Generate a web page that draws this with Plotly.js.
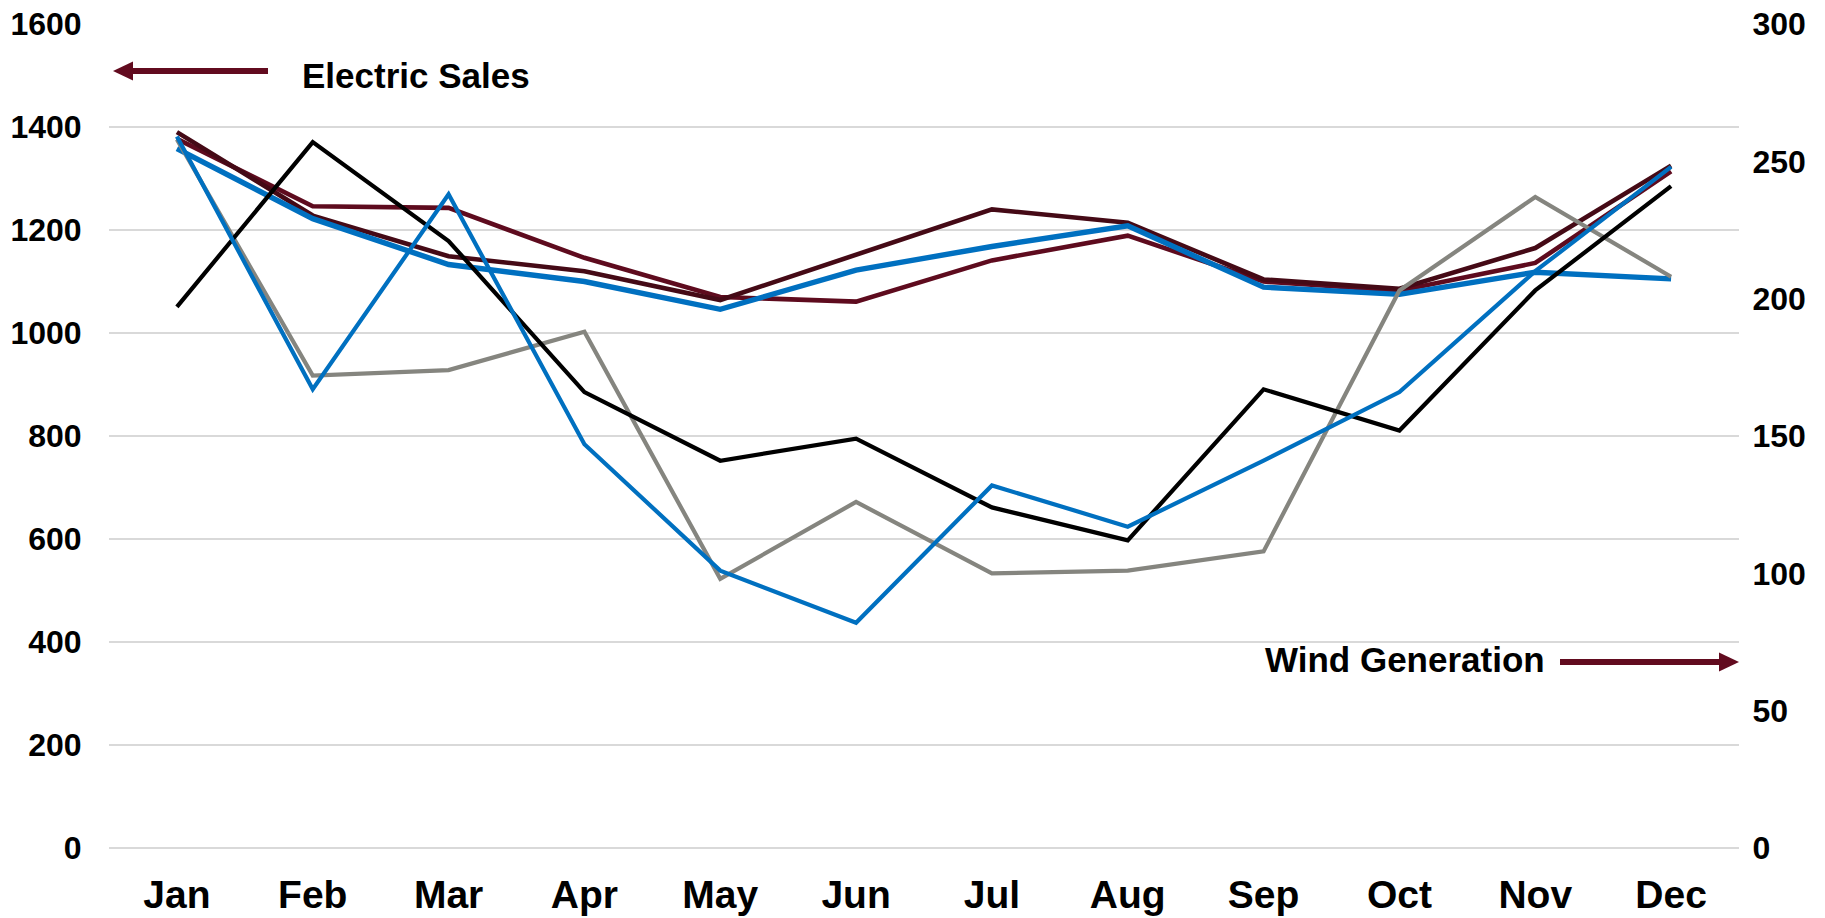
<!DOCTYPE html>
<html>
<head>
<meta charset="utf-8">
<script src="https://cdn.plot.ly/plotly-3.0.1.min.js"></script>
<style>
  html, body { margin: 0; padding: 0; background: #ffffff; }
  #chart { width: 1825px; height: 918px; }
</style>
</head>
<body>
<div id="chart"></div>
<script>
// ---- Data ----
const months = ["Jan","Feb","Mar","Apr","May","Jun","Jul","Aug","Sep","Oct","Nov","Dec"];

// Electric sales (left axis)
const salesA = [1390, 1228, 1149, 1120, 1064, 1152, 1240, 1214, 1104, 1086, 1165, 1325]; // dark maroon
const salesB = [1377, 1246, 1243, 1146, 1070, 1061, 1141, 1189, 1100, 1082, 1136, 1314]; // maroon
const salesC = [1358, 1222, 1133, 1100, 1046, 1122, 1168, 1208, 1089, 1075, 1118, 1105]; // blue

// Wind generation (right axis)
const windA = [259, 167, 238, 147, 101, 82, 132, 117, 141, 166, 210, 248]; // blue
const windB = [258, 172, 174, 188, 98, 126, 100, 101, 108, 203, 237, 208]; // gray
const windC = [197, 257, 221, 166, 141, 149, 124, 112, 167, 152, 203, 241]; // black

const leftTicks = [0, 200, 400, 600, 800, 1000, 1200, 1400, 1600];
const rightTicks = [0, 50, 100, 150, 200, 250, 300];

// ---- Layout geometry ----
const W = 1825, H = 918;
const M = {l: 109, r: 86, t: 24, b: 70};
const PW = W - M.l - M.r, PH = H - M.t - M.b;
const px = x => (x - M.l) / PW;
const py = y => (H - M.b - y) / PH;

const FONT = "Liberation Sans, Arial, Helvetica, sans-serif";
const MAROON = "#620b1f";

function line(name, y, color, width, axis) {
  return {
    type: "scatter", mode: "lines", name: name,
    x: months, y: y, yaxis: axis,
    line: {color: color, width: width},
    showlegend: false, hoverinfo: "x+y+name"
  };
}

const traces = [
  line("Wind (gray)", windB, "#85857f", 4.2, "y2"),
  line("Wind (black)", windC, "#000000", 4.2, "y2"),
  line("Wind (blue)", windA, "#0070c0", 4.2, "y2"),
  line("Sales (maroon)", salesB, "#5e0b1e", 4.6, "y"),
  line("Sales (dark maroon)", salesA, "#450a16", 4.6, "y"),
  line("Sales (blue)", salesC, "#0070c0", 5.4, "y")
];

// arrow helpers (annotation decorations, in paper coords)
function arrowShapes(x1, x2, y, dir) {
  const headLen = 20, headHalf = 9.5;
  const tip = dir < 0 ? x1 : x2;
  const base = tip - dir * headLen;
  const shaftStart = dir < 0 ? base : x1;
  const shaftEnd = dir < 0 ? x2 : base;
  return [
    {type: "line", xref: "paper", yref: "paper",
     x0: px(shaftStart), x1: px(shaftEnd), y0: py(y), y1: py(y),
     line: {color: MAROON, width: 6}},
    {type: "path", xref: "paper", yref: "paper",
     path: `M ${px(tip)} ${py(y)} L ${px(base)} ${py(y - headHalf)} L ${px(base)} ${py(y + headHalf)} Z`,
     fillcolor: MAROON, line: {color: MAROON, width: 0}}
  ];
}

const layout = {
  width: W, height: H,
  margin: M,
  paper_bgcolor: "#ffffff",
  plot_bgcolor: "#ffffff",
  font: {family: FONT, color: "#000000"},
  showlegend: false,
  xaxis: {
    type: "category",
    range: [-0.5, 11.5],
    showgrid: false, zeroline: false, showline: false,
    ticks: "outside", ticklen: 12, tickcolor: "rgba(0,0,0,0)",
    tickfont: {family: FONT, size: 39, weight: "bold", color: "#000000"}
  },
  yaxis: {
    range: [0, 1600],
    tickvals: leftTicks,
    ticktext: leftTicks.map(String),
    showgrid: true, gridcolor: "#d9d9d9", gridwidth: 1.6,
    zeroline: true, zerolinecolor: "#d9d9d9", zerolinewidth: 1.6,
    showline: false,
    ticks: "outside", ticklen: 20, tickcolor: "rgba(0,0,0,0)",
    tickfont: {family: FONT, size: 32, weight: "bold", color: "#000000"}
  },
  yaxis2: {
    overlaying: "y", side: "right",
    range: [0, 300],
    tickvals: rightTicks,
    ticktext: rightTicks.map(String),
    showgrid: false, zeroline: false, showline: false,
    ticks: "outside", ticklen: 6, tickcolor: "rgba(0,0,0,0)",
    tickfont: {family: FONT, size: 32, weight: "bold", color: "#000000"}
  },
  annotations: [
    {xref: "paper", yref: "paper", x: px(300), y: py(76), xanchor: "left", yanchor: "middle",
     text: "Electric Sales", showarrow: false,
     font: {family: FONT, size: 35, weight: "bold", color: "#000000"}},
    {xref: "paper", yref: "paper", x: px(1263), y: py(659), xanchor: "left", yanchor: "middle",
     text: "Wind Generation", showarrow: false,
     font: {family: FONT, size: 35, weight: "bold", color: "#000000"}}
  ],
  shapes: [].concat(arrowShapes(113, 268, 71, -1), arrowShapes(1560, 1739, 662, 1))
};

Plotly.newPlot("chart", traces, layout, {displayModeBar: false, staticPlot: true});
</script>
</body>
</html>
